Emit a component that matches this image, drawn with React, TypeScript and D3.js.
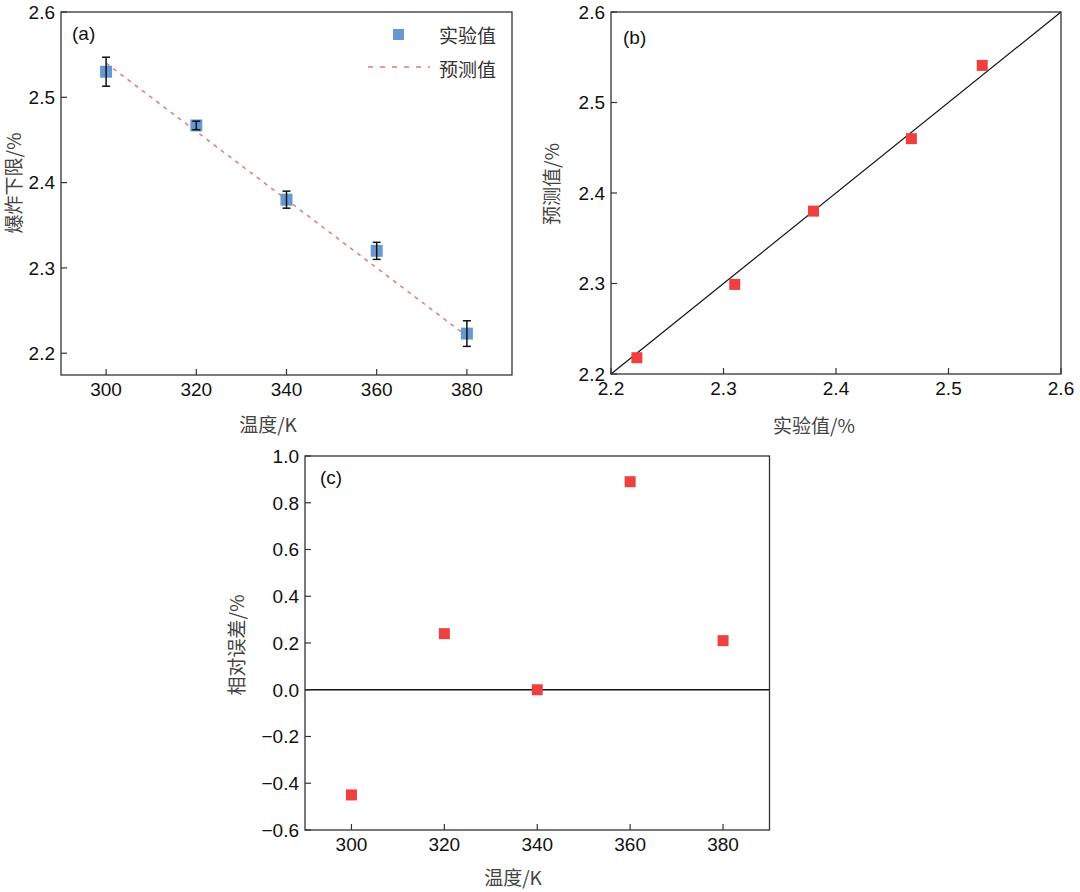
import React from "react";
import * as d3 from "d3";

// ---------- data ----------
const temps = [300, 320, 340, 360, 380];
const expValues = [2.53, 2.467, 2.38, 2.32, 2.223];
const expErrors = [0.017, 0.005, 0.01, 0.01, 0.015];
const predValues = [2.54, 2.46, 2.38, 2.3, 2.22];
// panel (b)
const bExp = [2.223, 2.31, 2.38, 2.467, 2.53];
const bPred = [2.218, 2.299, 2.38, 2.46, 2.541];
// panel (c)
const relErrors = [-0.45, 0.24, 0.0, 0.89, 0.21];

const tempTicks = [300, 320, 340, 360, 380];
const limitTicks = [2.2, 2.3, 2.4, 2.5, 2.6];
const errTicks = [-0.6, -0.4, -0.2, 0.0, 0.2, 0.4, 0.6, 0.8, 1.0];

const TICK_FONT = "'Liberation Sans', Arial, sans-serif";
const CJK_FONT = "'Noto Sans CJK SC', 'Liberation Sans', sans-serif";
const BLUE = "#6699d2";
const RED = "#ef4040";

type Box = { x0: number; x1: number; y0: number; y1: number };

function Frame({
  box, xs, ys, xTicks, yTicks, xFmt, yFmt, xLabel, yLabel, xLabelX, xLabelY, yLabelY, yLabelX, tag, tagX, tagY,
}: any) {
  return (
    <g>
      <rect x={box.x0} y={box.y0} width={box.x1 - box.x0} height={box.y1 - box.y0} fill="none" stroke="#333" strokeWidth={1.3} />
      {xTicks.map((t: number) => (
        <g key={"x" + t}>
          <line x1={xs(t)} x2={xs(t)} y1={box.y1} y2={box.y1 - 6} stroke="#333" strokeWidth={1.2} />
          <text x={xs(t)} y={box.y1 + 21} textAnchor="middle" fontFamily={TICK_FONT} fontSize={19} fill="#111">{xFmt(t)}</text>
        </g>
      ))}
      {yTicks.map((t: number) => (
        <g key={"y" + t}>
          <line x1={box.x0} x2={box.x0 + 6} y1={ys(t)} y2={ys(t)} stroke="#333" strokeWidth={1.2} />
          <text x={box.x0 - 6} y={ys(t)} dy="0.36em" textAnchor="end" fontFamily={TICK_FONT} fontSize={19} fill="#111">{yFmt(t)}</text>
        </g>
      ))}
      <text x={xLabelX} y={xLabelY} dy="0.36em" textAnchor="middle" fontFamily={CJK_FONT} fontSize={19} fill="#444">{xLabel}</text>
      <text transform={`translate(${yLabelX},${yLabelY}) rotate(-90)`} textAnchor="middle" dy="0.36em" fontFamily={CJK_FONT} fontSize={19} fill="#444">{yLabel}</text>
      <text x={tagX} y={tagY} dy="0.35em" fontFamily={TICK_FONT} fontSize={19} fill="#111">{tag}</text>
    </g>
  );
}

export default function App() {
  const fmt1 = d3.format(".1f");
  const fmt0 = d3.format("d");

  // ----- panel (a) -----
  const boxA: Box = { x0: 61, x1: 512, y0: 12, y1: 375 };
  const xA = d3.scaleLinear().domain([290, 390]).range([boxA.x0, boxA.x1]);
  const yA = d3.scaleLinear().domain([2.6 - (boxA.y1 - boxA.y0) / 853, 2.6]).range([boxA.y1, boxA.y0]);
  const predLine = d3.line<number>().x((_, i) => xA(temps[i])).y((d) => yA(d))(predValues) || "";

  // ----- panel (b) -----
  const boxB: Box = { x0: 611, x1: 1061, y0: 12, y1: 374 };
  const xB = d3.scaleLinear().domain([2.2, 2.6]).range([boxB.x0, boxB.x1]);
  const yB = d3.scaleLinear().domain([2.2, 2.6]).range([boxB.y1, boxB.y0]);

  // ----- panel (c) -----
  const boxC: Box = { x0: 305, x1: 769.5, y0: 456, y1: 830 };
  const xC = d3.scaleLinear().domain([290, 390]).range([boxC.x0, boxC.x1]);
  const yC = d3.scaleLinear().domain([-0.6, 1.0]).range([boxC.y1, boxC.y0]);

  const sqA = 12;
  const sq = 11;

  return (
    <svg width={1080} height={892} style={{ position: "absolute", left: 0, top: 0, background: "#fff" }}>
      {/* Panel (a) */}
      <path d={predLine} fill="none" stroke="#e07a7a" strokeWidth={1.5} strokeDasharray="4,5" />
      {temps.map((t, i) => (
        <rect key={"a" + t} x={xA(t) - sqA / 2} y={yA(expValues[i]) - sqA / 2} width={sqA} height={sqA} fill={BLUE} />
      ))}
      {temps.map((t, i) => (
        <g key={"e" + t} stroke="#111" strokeWidth={1.5}>
          <line x1={xA(t)} x2={xA(t)} y1={yA(expValues[i] - expErrors[i])} y2={yA(expValues[i] + expErrors[i])} />
          <line x1={xA(t) - 4} x2={xA(t) + 4} y1={yA(expValues[i] - expErrors[i])} y2={yA(expValues[i] - expErrors[i])} />
          <line x1={xA(t) - 4} x2={xA(t) + 4} y1={yA(expValues[i] + expErrors[i])} y2={yA(expValues[i] + expErrors[i])} />
        </g>
      ))}
      <rect x={393} y={29} width={11} height={11} fill={BLUE} />
      <text x={439} y={36} dy="0.36em" fontFamily={CJK_FONT} fontSize={19} fill="#333">实验值</text>
      <line x1={368} x2={430} y1={67} y2={67} stroke="#e07a7a" strokeWidth={1.5} strokeDasharray="5,7" />
      <text x={439} y={70} dy="0.36em" fontFamily={CJK_FONT} fontSize={19} fill="#333">预测值</text>
      <Frame box={boxA} xs={xA} ys={yA} xTicks={tempTicks} yTicks={limitTicks} xFmt={fmt0} yFmt={fmt1}
        xLabel="温度/K" yLabel="爆炸下限/%" xLabelX={268} xLabelY={425} yLabelX={14} yLabelY={183} tag="(a)" tagX={72} tagY={33} />

      {/* Panel (b) */}
      <line x1={xB(2.2)} y1={yB(2.2)} x2={xB(2.6)} y2={yB(2.6)} stroke="#111" strokeWidth={1.2} />
      {bExp.map((v, i) => (
        <rect key={"b" + i} x={xB(v) - sq / 2} y={yB(bPred[i]) - sq / 2} width={sq} height={sq} fill={RED} />
      ))}
      <Frame box={boxB} xs={xB} ys={yB} xTicks={limitTicks} yTicks={limitTicks} xFmt={fmt1} yFmt={fmt1}
        xLabel="实验值/%" yLabel="预测值/%" xLabelX={814} xLabelY={426} yLabelX={552} yLabelY={184} tag="(b)" tagX={623} tagY={37} />

      {/* Panel (c) */}
      <line x1={boxC.x0} x2={boxC.x1} y1={yC(0)} y2={yC(0)} stroke="#111" strokeWidth={1.4} />
      {temps.map((t, i) => (
        <rect key={"c" + t} x={xC(t) - sq / 2} y={yC(relErrors[i]) - sq / 2} width={sq} height={sq} fill={RED} />
      ))}
      <Frame box={boxC} xs={xC} ys={yC} xTicks={tempTicks} yTicks={errTicks} xFmt={fmt0} yFmt={fmt1}
        xLabel="温度/K" yLabel="相对误差/%" xLabelX={513} xLabelY={878} yLabelX={237} yLabelY={645} tag="(c)" tagX={320} tagY={477} />
    </svg>
  );
}
